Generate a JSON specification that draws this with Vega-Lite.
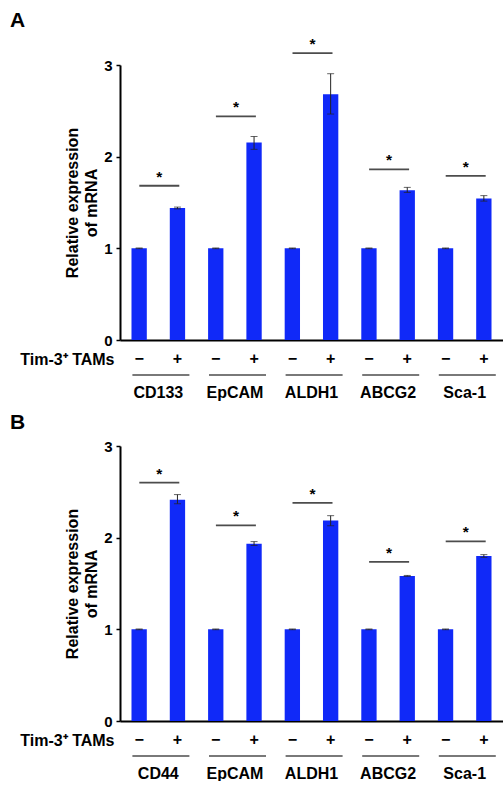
{
  "$schema": "https://vega.github.io/schema/vega-lite/v6.json",
  "padding": {"left": 10, "top": 10, "right": 0, "bottom": 0},
  "background": "white",
  "spacing": 12,
  "config": {
    "view": {"stroke": null},
    "font": "Liberation Sans",
    "axis": {"labelColor": "black", "titleColor": "black", "domainColor": "black"}
  },
  "datasets": {
    "barsA": [
      {"gene": "CD133", "trt": "−", "value": 1.0, "lo": 0.996, "hi": 1.004},
      {"gene": "CD133", "trt": "+", "value": 1.44, "lo": 1.43, "hi": 1.45},
      {"gene": "EpCAM", "trt": "−", "value": 1.0, "lo": 0.996, "hi": 1.004},
      {"gene": "EpCAM", "trt": "+", "value": 2.155, "lo": 2.08, "hi": 2.22},
      {"gene": "ALDH1", "trt": "−", "value": 1.0, "lo": 0.996, "hi": 1.004},
      {"gene": "ALDH1", "trt": "+", "value": 2.68, "lo": 2.465, "hi": 2.905},
      {"gene": "ABCG2", "trt": "−", "value": 1.0, "lo": 0.996, "hi": 1.004},
      {"gene": "ABCG2", "trt": "+", "value": 1.635, "lo": 1.61, "hi": 1.665},
      {"gene": "Sca-1", "trt": "−", "value": 1.0, "lo": 0.996, "hi": 1.004},
      {"gene": "Sca-1", "trt": "+", "value": 1.545, "lo": 1.515, "hi": 1.575}
    ],
    "sigA": [
      {"gene": "CD133", "sig": 1.683, "star": "*"},
      {"gene": "EpCAM", "sig": 2.44, "star": "*"},
      {"gene": "ALDH1", "sig": 3.13, "star": "*"},
      {"gene": "ABCG2", "sig": 1.862, "star": "*"},
      {"gene": "Sca-1", "sig": 1.79, "star": "*"}
    ],
    "barsB": [
      {"gene": "CD44", "trt": "−", "value": 1.0, "lo": 0.996, "hi": 1.004},
      {"gene": "CD44", "trt": "+", "value": 2.413, "lo": 2.37, "hi": 2.47},
      {"gene": "EpCAM", "trt": "−", "value": 1.0, "lo": 0.996, "hi": 1.004},
      {"gene": "EpCAM", "trt": "+", "value": 1.935, "lo": 1.915, "hi": 1.957},
      {"gene": "ALDH1", "trt": "−", "value": 1.0, "lo": 0.996, "hi": 1.004},
      {"gene": "ALDH1", "trt": "+", "value": 2.188, "lo": 2.13, "hi": 2.24},
      {"gene": "ABCG2", "trt": "−", "value": 1.0, "lo": 0.996, "hi": 1.004},
      {"gene": "ABCG2", "trt": "+", "value": 1.583, "lo": 1.578, "hi": 1.588},
      {"gene": "Sca-1", "trt": "−", "value": 1.0, "lo": 0.996, "hi": 1.004},
      {"gene": "Sca-1", "trt": "+", "value": 1.8, "lo": 1.785, "hi": 1.815}
    ],
    "sigB": [
      {"gene": "CD44", "sig": 2.6, "star": "*"},
      {"gene": "EpCAM", "sig": 2.134, "star": "*"},
      {"gene": "ALDH1", "sig": 2.38, "star": "*"},
      {"gene": "ABCG2", "sig": 1.736, "star": "*"},
      {"gene": "Sca-1", "sig": 1.96, "star": "*"}
    ]
  },
  "vconcat": [
    {
      "title": {"text": "A", "anchor": "start", "frame": "group", "dx": -110, "offset": 6, "fontSize": 21, "fontWeight": "bold", "color": "black"},
      "width": 383,
      "height": 275,
      "data": {"name": "barsA"},
      "encoding": {
        "x": {"field": "gene", "type": "nominal", "sort": ["CD133", "EpCAM", "ALDH1", "ABCG2", "Sca-1"], "scale": {"paddingInner": 0, "paddingOuter": 0},
          "axis": {"title": "Tim-3⁺ TAMs", "titleX": -6, "titleY": 19, "titleAlign": "right", "titleBaseline": "middle", "titleFontSize": 16, "titleFontWeight": "bold", "labelAngle": 0, "labelPadding": 44, "ticks": false, "tickSize": 0, "domainWidth": 2, "labelFontSize": 16, "labelFontWeight": "bold"}}
      },
      "layer": [
        {
          "mark": {"type": "bar", "color": "#1029f8"},
          "encoding": {
            "xOffset": {"field": "trt", "type": "nominal", "sort": ["−", "+"], "scale": {"paddingInner": 0.6, "paddingOuter": 0.3}},
            "y": {"field": "value", "type": "quantitative", "scale": {"domain": [0, 3]},
              "axis": {"title": ["Relative expression", "of mRNA"], "values": [0, 1, 2, 3], "format": "d", "grid": false, "tickSize": 4, "tickColor": "black", "tickWidth": 1.5, "domainWidth": 2, "labelFontSize": 15, "labelFontWeight": "bold", "labelPadding": 4, "titleFontSize": 16, "titleFontWeight": "bold", "titlePadding": 4, "titleLineHeight": 19.5}}
          }
        },
        {
          "mark": {"type": "rule", "color": "#222", "strokeWidth": 1},
          "encoding": {
            "xOffset": {"field": "trt", "type": "nominal", "sort": ["−", "+"]},
            "y": {"field": "lo", "type": "quantitative"},
            "y2": {"field": "hi"}
          }
        },
        {
          "mark": {"type": "tick", "color": "#222", "size": 7, "thickness": 1, "orient": "horizontal"},
          "encoding": {
            "xOffset": {"field": "trt", "type": "nominal", "sort": ["−", "+"]},
            "y": {"field": "lo", "type": "quantitative"}
          }
        },
        {
          "mark": {"type": "tick", "color": "#222", "size": 7, "thickness": 1, "orient": "horizontal"},
          "encoding": {
            "xOffset": {"field": "trt", "type": "nominal", "sort": ["−", "+"]},
            "y": {"field": "hi", "type": "quantitative"}
          }
        },
        {
          "mark": {"type": "text", "fontSize": 16, "fontWeight": "bold", "color": "black", "baseline": "middle", "dy": 19},
          "encoding": {
            "xOffset": {"field": "trt", "type": "nominal", "sort": ["−", "+"]},
            "y": {"datum": 0, "type": "quantitative"},
            "text": {"field": "trt"}
          }
        },
        {
          "data": {"name": "sigA"},
          "mark": {"type": "tick", "color": "black", "size": 40, "thickness": 1.8, "orient": "horizontal", "xOffset": 1},
          "encoding": {
            "y": {"field": "sig", "type": "quantitative"}
          }
        },
        {
          "data": {"name": "sigA"},
          "mark": {"type": "text", "fontSize": 15.5, "fontWeight": "bold", "color": "black", "baseline": "alphabetic", "dy": -4, "xOffset": 1},
          "encoding": {
            "y": {"field": "sig", "type": "quantitative"},
            "text": {"field": "star"}
          }
        },
        {
          "data": {"name": "sigA"},
          "mark": {"type": "tick", "color": "black", "size": 57, "thickness": 1.6, "orient": "horizontal", "xOffset": 2.6, "yOffset": 35},
          "encoding": {
            "y": {"datum": 0, "type": "quantitative"}
          }
        }
      ]
    },
    {
      "title": {"text": "B", "anchor": "start", "frame": "group", "dx": -110, "offset": 6, "fontSize": 21, "fontWeight": "bold", "color": "black"},
      "width": 383,
      "height": 275,
      "data": {"name": "barsB"},
      "encoding": {
        "x": {"field": "gene", "type": "nominal", "sort": ["CD44", "EpCAM", "ALDH1", "ABCG2", "Sca-1"], "scale": {"paddingInner": 0, "paddingOuter": 0},
          "axis": {"title": "Tim-3⁺ TAMs", "titleX": -6, "titleY": 19, "titleAlign": "right", "titleBaseline": "middle", "titleFontSize": 16, "titleFontWeight": "bold", "labelAngle": 0, "labelPadding": 44, "ticks": false, "tickSize": 0, "domainWidth": 2, "labelFontSize": 16, "labelFontWeight": "bold"}}
      },
      "layer": [
        {
          "mark": {"type": "bar", "color": "#1029f8"},
          "encoding": {
            "xOffset": {"field": "trt", "type": "nominal", "sort": ["−", "+"], "scale": {"paddingInner": 0.6, "paddingOuter": 0.3}},
            "y": {"field": "value", "type": "quantitative", "scale": {"domain": [0, 3]},
              "axis": {"title": ["Relative expression", "of mRNA"], "values": [0, 1, 2, 3], "format": "d", "grid": false, "tickSize": 4, "tickColor": "black", "tickWidth": 1.5, "domainWidth": 2, "labelFontSize": 15, "labelFontWeight": "bold", "labelPadding": 4, "titleFontSize": 16, "titleFontWeight": "bold", "titlePadding": 4, "titleLineHeight": 19.5}}
          }
        },
        {
          "mark": {"type": "rule", "color": "#222", "strokeWidth": 1},
          "encoding": {
            "xOffset": {"field": "trt", "type": "nominal", "sort": ["−", "+"]},
            "y": {"field": "lo", "type": "quantitative"},
            "y2": {"field": "hi"}
          }
        },
        {
          "mark": {"type": "tick", "color": "#222", "size": 7, "thickness": 1, "orient": "horizontal"},
          "encoding": {
            "xOffset": {"field": "trt", "type": "nominal", "sort": ["−", "+"]},
            "y": {"field": "lo", "type": "quantitative"}
          }
        },
        {
          "mark": {"type": "tick", "color": "#222", "size": 7, "thickness": 1, "orient": "horizontal"},
          "encoding": {
            "xOffset": {"field": "trt", "type": "nominal", "sort": ["−", "+"]},
            "y": {"field": "hi", "type": "quantitative"}
          }
        },
        {
          "mark": {"type": "text", "fontSize": 16, "fontWeight": "bold", "color": "black", "baseline": "middle", "dy": 19},
          "encoding": {
            "xOffset": {"field": "trt", "type": "nominal", "sort": ["−", "+"]},
            "y": {"datum": 0, "type": "quantitative"},
            "text": {"field": "trt"}
          }
        },
        {
          "data": {"name": "sigB"},
          "mark": {"type": "tick", "color": "black", "size": 40, "thickness": 1.8, "orient": "horizontal", "xOffset": 1},
          "encoding": {
            "y": {"field": "sig", "type": "quantitative"}
          }
        },
        {
          "data": {"name": "sigB"},
          "mark": {"type": "text", "fontSize": 15.5, "fontWeight": "bold", "color": "black", "baseline": "alphabetic", "dy": -4, "xOffset": 1},
          "encoding": {
            "y": {"field": "sig", "type": "quantitative"},
            "text": {"field": "star"}
          }
        },
        {
          "data": {"name": "sigB"},
          "mark": {"type": "tick", "color": "black", "size": 57, "thickness": 1.6, "orient": "horizontal", "xOffset": 2.6, "yOffset": 35},
          "encoding": {
            "y": {"datum": 0, "type": "quantitative"}
          }
        }
      ]
    }
  ]
}
